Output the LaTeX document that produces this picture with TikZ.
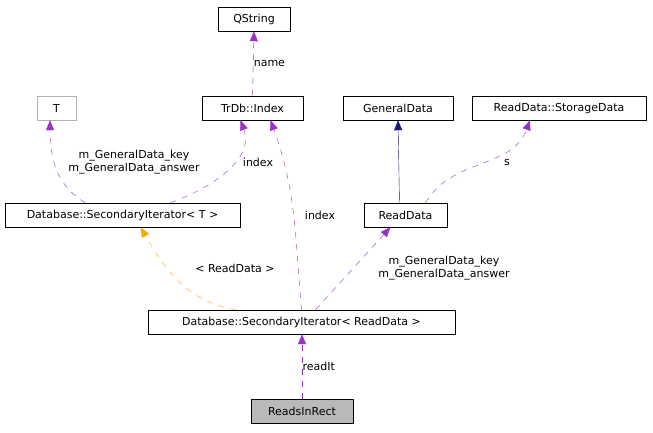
\documentclass[tikz,border=0pt]{standalone}
\usepackage{fontspec}
\setmainfont{DejaVu Sans}
\usetikzlibrary{arrows.meta}
\definecolor{edgepurple}{RGB}{153,51,204}
\definecolor{edgeorange}{RGB}{255,165,0}
\definecolor{edgenavy}{RGB}{25,25,112}
\tikzset{
  cls/.style={draw, minimum height=24pt, inner sep=3pt, font=\fontsize{11}{12}\selectfont},
  lbl/.style={text=black, font=\fontsize{11}{12.5}\selectfont, align=center},
  use/.style={edgepurple, dash pattern=on 6pt off 6pt, -{Triangle[length=10pt,width=8pt]}},
}
\begin{document}
\begin{tikzpicture}[x=1pt,y=-1pt]
    \useasboundingbox (0,0) rectangle (653,432);
    \node[cls, minimum width=72pt] (qstring) at (254,19) {QString};
    \node[cls, minimum width=101pt] (index) at (252.5,108) {TrDb::Index};
    \node[cls, draw=gray!60, minimum width=39pt] (T) at (56.5,108) {T};
    \node[cls, minimum width=110pt] (general) at (398,108) {GeneralData};
    \node[cls, minimum width=174pt] (storage) at (559,108) {ReadData::StorageData};
    \node[cls, minimum width=235pt] (iterT) at (122.5,215) {Database::SecondaryIterator< T >};
    \node[cls, minimum width=83pt] (readdata) at (405.5,215) {ReadData};
    \node[cls, minimum width=307pt] (iterRD) at (301.5,322) {Database::SecondaryIterator< ReadData >};
    \node[cls, fill=gray!55, minimum width=102pt] (reads) at (302,411.5) {ReadsInRect};

    \draw[use] (index.north) -- node[lbl, right=-3pt] {name} (qstring.south);
    \draw[use] ([xshift=-37pt]iterT.north) to[out=150,in=-90] (T.south -| 50,0);
    \node[lbl] at (134,162) {m\_GeneralData\_key\\m\_GeneralData\_answer};
    \draw[use] ([xshift=48pt]iterT.north) to[out=20,in=-70] ([xshift=-12pt]index.south);
    \node[lbl] at (258,162) {index};
    \draw[use] (iterRD.north) to[out=95,in=-70] ([xshift=18pt]index.south);
    \node[lbl] at (320,215) {index};
    \draw[edgenavy, -{Triangle[length=10pt,width=8pt]}] ([xshift=-6pt]readdata.north) -- (general.south);
    \draw[use] ([xshift=20pt]readdata.north) to[out=60,in=-110] ([xshift=-29pt]storage.south);
    \node[lbl] at (507,162) {s};
    \draw[use, edgeorange] ([xshift=-66pt]iterRD.north) to[out=170,in=-60] ([xshift=18pt]iterT.south);
    \node[lbl] at (235,268) {< ReadData >};
    \draw[use] ([xshift=14pt]iterRD.north) -- ([xshift=-15pt]readdata.south);
    \node[lbl] at (444,268) {m\_GeneralData\_key\\m\_GeneralData\_answer};
    \draw[use] (reads.north) -- node[lbl, right=-3pt] {readIt} (iterRD.south -| reads.north);
\end{tikzpicture}
\end{document}
